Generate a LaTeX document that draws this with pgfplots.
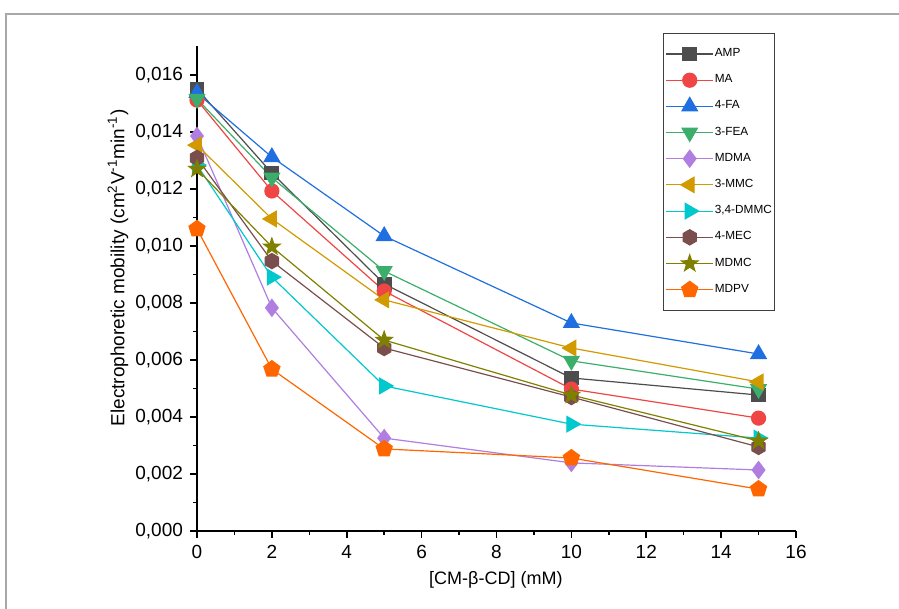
\documentclass[border=0pt]{standalone}
\usepackage{pgfplots}
\pgfplotsset{compat=1.18}
\usepackage{fontspec}
\setmainfont{Liberation Sans}
\usetikzlibrary{plotmarks}

\definecolor{cAMP}{HTML}{4D4D4D}
\definecolor{cMA}{HTML}{F04545}
\definecolor{cFA}{HTML}{1F6FE0}
\definecolor{cFEA}{HTML}{3AAE6A}
\definecolor{cMDMA}{HTML}{B07EE0}
\definecolor{cMMC}{HTML}{D09A00}
\definecolor{cDMMC}{HTML}{00C8CC}
\definecolor{cMEC}{HTML}{7B4E4E}
\definecolor{cMDMC}{HTML}{808000}
\definecolor{cMDPV}{HTML}{FF6600}
\definecolor{frame}{HTML}{A8A8A8}

% filled hexagon and five-point star
\pgfdeclareplotmark{hexagon*}{%
  \pgfpathmoveto{\pgfpointpolar{90}{\pgfplotmarksize}}%
  \pgfpathlineto{\pgfpointpolar{150}{\pgfplotmarksize}}%
  \pgfpathlineto{\pgfpointpolar{210}{\pgfplotmarksize}}%
  \pgfpathlineto{\pgfpointpolar{270}{\pgfplotmarksize}}%
  \pgfpathlineto{\pgfpointpolar{330}{\pgfplotmarksize}}%
  \pgfpathlineto{\pgfpointpolar{30}{\pgfplotmarksize}}%
  \pgfpathclose\pgfusepathqfillstroke}
\pgfdeclareplotmark{star5*}{%
  \pgfpathmoveto{\pgfpointpolar{90}{\pgfplotmarksize}}%
  \pgfpathlineto{\pgfpointpolar{126}{0.4*\pgfplotmarksize}}%
  \pgfpathlineto{\pgfpointpolar{162}{\pgfplotmarksize}}%
  \pgfpathlineto{\pgfpointpolar{198}{0.4*\pgfplotmarksize}}%
  \pgfpathlineto{\pgfpointpolar{234}{\pgfplotmarksize}}%
  \pgfpathlineto{\pgfpointpolar{270}{0.4*\pgfplotmarksize}}%
  \pgfpathlineto{\pgfpointpolar{306}{\pgfplotmarksize}}%
  \pgfpathlineto{\pgfpointpolar{342}{0.4*\pgfplotmarksize}}%
  \pgfpathlineto{\pgfpointpolar{18}{\pgfplotmarksize}}%
  \pgfpathlineto{\pgfpointpolar{54}{0.4*\pgfplotmarksize}}%
  \pgfpathclose\pgfusepathqfillstroke}

\begin{document}
\begin{tikzpicture}
\begin{axis}[
    name=ax,
    at={(0,0)}, anchor=south west,
    scale only axis,
    width=299.5pt, height=242.25pt,
    xmin=0, xmax=16, ymin=0, ymax=0.017,
    axis lines=left,
    axis line style={-, line width=1pt},
    xtick={0,2,...,16},
    ytick={0,0.002,0.004,0.006,0.008,0.010,0.012,0.014,0.016},
    minor tick num=1,
    tick align=outside,
    major tick length=3.5pt, minor tick length=2pt,
    every tick/.style={black, line width=0.8pt},
    tick label style={font=\fontsize{9.5}{11}\selectfont},
    scaled y ticks=false,
    yticklabel style={/pgf/number format/.cd, fixed, fixed zerofill, precision=3, use comma, assume math mode=true},
    xticklabel style={/pgf/number format/assume math mode=true},
    xlabel={[CM-β-CD] (mM)},
    ylabel={Electrophoretic mobility (cm\textsuperscript{2}V\textsuperscript{-1}min\textsuperscript{-1})},
    every axis x label/.style={at={(axis description cs:0.499,-0.101)}, anchor=center, font=\fontsize{9}{11}\selectfont},
    every axis y label/.style={at={(axis description cs:-0.132,0.543)}, rotate=90, anchor=center, font=\fontsize{9.5}{11}\selectfont},
    clip=false,
    every axis plot/.append style={line width=0.6pt, mark size=3.5pt},
    legend cell align=left,
    legend image code/.code={\draw[mark repeat=2,mark phase=2] plot coordinates {(0pt,0pt)(11.75pt,0pt)(23.5pt,0pt)};},
    legend style={at={(0.778,1.028)}, anchor=north west, draw=black!75, line width=0.6pt,
        font=\fontsize{5.9}{6.5}\selectfont, row sep=3.5pt, inner xsep=1pt, inner ysep=5.5pt,
        nodes={inner xsep=0.5pt}},
]
\addplot[cAMP, mark=square*, mark size=3.4pt] coordinates {(0,0.01551) (2,0.01256) (5,0.00867) (10,0.00537) (15,0.00477)};
\addlegendentry{AMP}
\addplot[cMA, mark=*, mark size=3.5pt] coordinates {(0,0.01512) (2,0.01193) (5,0.00842) (10,0.00498) (15,0.00396)};
\addlegendentry{MA}
\addplot[cFA, mark=triangle*, mark size=4.4pt] coordinates {(0,0.01537) (2,0.01312) (5,0.01035) (10,0.00730) (15,0.00621)};
\addlegendentry{4-FA}
\addplot[cFEA, mark=triangle*, mark size=4.4pt, mark options={rotate=180}] coordinates {(0,0.01516) (2,0.01240) (5,0.00912) (10,0.00597) (15,0.00498)};
\addlegendentry{3-FEA}
\addplot[cMDMA, mark=diamond*, mark size=4.2pt] coordinates {(0,0.01386) (2,0.00783) (5,0.00326) (10,0.00239) (15,0.00214)};
\addlegendentry{MDMA}
\addplot[cMMC, mark=triangle*, mark size=4.4pt, mark options={rotate=90}] coordinates {(0,0.01354) (2,0.01095) (5,0.00811) (10,0.00642) (15,0.00523)};
\addlegendentry{3-MMC}
\addplot[cDMMC, mark=triangle*, mark size=4.4pt, mark options={rotate=-90}] coordinates {(0,0.01284) (2,0.00891) (5,0.00509) (10,0.00375) (15,0.00326)};
\addlegendentry{3,4-DMMC}
\addplot[cMEC, mark=hexagon*, mark size=3.8pt] coordinates {(0,0.01309) (2,0.00947) (5,0.00642) (10,0.00470) (15,0.00295)};
\addlegendentry{4-MEC}
\addplot[cMDMC, mark=star5*, mark size=4.3pt] coordinates {(0,0.01270) (2,0.00997) (5,0.00670) (10,0.00477) (15,0.00316)};
\addlegendentry{MDMC}
\addplot[cMDPV, mark=pentagon*, mark size=4.2pt] coordinates {(0,0.01060) (2,0.00568) (5,0.00288) (10,0.00256) (15,0.00147)};
\addlegendentry{MDPV}
\end{axis}
\draw[frame, line width=1.2pt] (-95.5pt,-39pt) -- (-95.5pt,258.5pt) -- (351pt,258.5pt);
\pgfresetboundingbox
\path[use as bounding box] (-98.5pt,-39pt) rectangle (351pt,265.5pt);
\end{tikzpicture}
\end{document}
